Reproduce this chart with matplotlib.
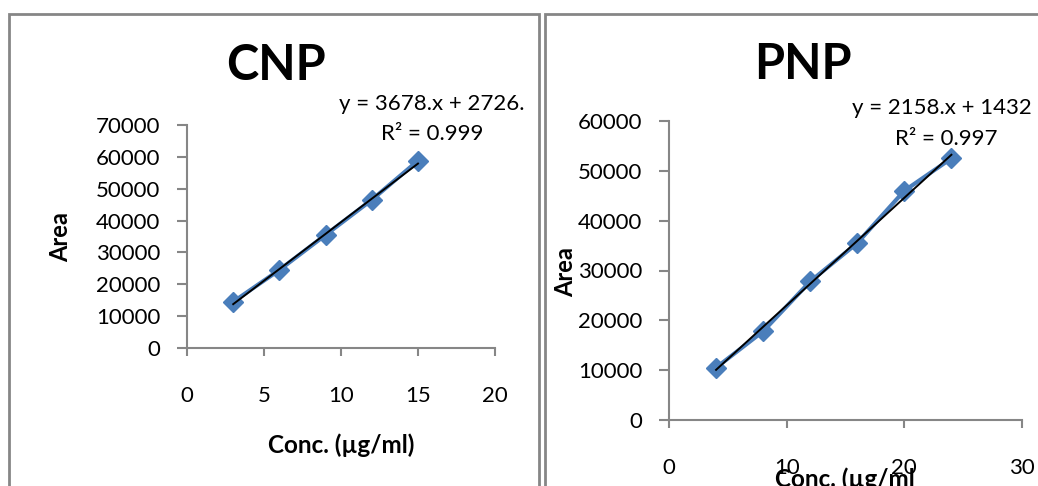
import numpy as np
import matplotlib
matplotlib.use('Agg')
import matplotlib.pyplot as plt
from matplotlib.patches import Rectangle

plt.rcParams['font.family'] = ['Lato', 'DejaVu Sans']

# CNP calibration
cnp_conc = [3, 6, 9, 12, 15]
cnp_area = [14500, 24500, 35500, 46500, 58800]
cnp_slope, cnp_icpt = 3678.0, 2726.0
cnp_eq = ['y = 3678.x + 2726.', 'R² = 0.999']

# PNP calibration
pnp_conc = [4, 8, 12, 16, 20, 24]
pnp_area = [10500, 17800, 27800, 35500, 46000, 52500]
pnp_slope, pnp_icpt = 2158.0, 1432.0
pnp_eq = ['y = 2158.x + 1432', 'R² = 0.997']

cnp_xticks = [0, 5, 10, 15, 20]
cnp_yticks = [0, 10000, 20000, 30000, 40000, 50000, 60000, 70000]
pnp_xticks = [0, 10, 20, 30]
pnp_yticks = [0, 10000, 20000, 30000, 40000, 50000, 60000]

W, H = 1038, 486
BLUE = '#4a7ebb'
GRAY = '#868686'

fig = plt.figure(figsize=(W/100., H/100.), dpi=100)


def px(x, y):
    # pixel coords (from top-left) to figure fraction
    return x/float(W), 1 - y/float(H)


def box(x0, y0, x1, y1):
    l, b = px(x0, y1)
    return [l, b, (x1 - x0)/float(W), (y1 - y0)/float(H)]


# panel borders
for x0, x1 in [(9, 539), (545, 1060)]:
    fig.patches.append(Rectangle(px(x0, 520), (x1 - x0)/float(W), (520 - 14)/float(H),
                                 transform=fig.transFigure, fill=False,
                                 edgecolor=GRAY, lw=2))


def panel(ax, conc, area, slope, icpt, xticks, yticks):
    ax.plot(conc, area, '-', color=BLUE, lw=3, marker='D', ms=10.5,
            mfc=BLUE, mec=BLUE, zorder=2)
    xf = np.array([conc[0], conc[-1]], dtype=float)
    ax.plot(xf, slope*xf + icpt, color='black', lw=1.4, zorder=3)
    ax.set_xlim(xticks[0], xticks[-1])
    ax.set_ylim(yticks[0], yticks[-1])
    ax.set_xticks(xticks)
    ax.set_yticks(yticks)
    for s in ['top', 'right']:
        ax.spines[s].set_visible(False)
    for s in ['left', 'bottom']:
        ax.spines[s].set_color(GRAY)
        ax.spines[s].set_linewidth(1.5)
    ax.tick_params(axis='x', direction='out', length=6, width=1.5, color=GRAY,
                   labelsize=16, pad=21)
    ax.tick_params(axis='y', direction='out', length=7, width=1.5, color=GRAY,
                   labelsize=16, pad=12)
    ax.set_facecolor('none')


ax1 = fig.add_axes(box(187, 125, 495, 348))
panel(ax1, cnp_conc, cnp_area, cnp_slope, cnp_icpt, cnp_xticks, cnp_yticks)

ax2 = fig.add_axes(box(669, 121, 1022, 420))
panel(ax2, pnp_conc, pnp_area, pnp_slope, pnp_icpt, pnp_xticks, pnp_yticks)

# titles
fig.text(*px(276, 66), 'CNP', fontsize=35, fontweight='bold', ha='center', va='center')
fig.text(*px(803, 64), 'PNP', fontsize=35, fontweight='bold', ha='center', va='center')

# trendline equations
fig.text(*px(432, 104), cnp_eq[0], fontsize=16, ha='center', va='center')
fig.text(*px(432, 134), cnp_eq[1], fontsize=16, ha='center', va='center')
fig.text(*px(942, 108), pnp_eq[0], fontsize=16, ha='center', va='center')
fig.text(*px(946, 139), pnp_eq[1], fontsize=16, ha='center', va='center')

# axis labels
fig.text(*px(61, 237), 'Area', fontsize=17, fontweight='bold', rotation=90,
         ha='center', va='center')
fig.text(*px(566, 272), 'Area', fontsize=17, fontweight='bold', rotation=90,
         ha='center', va='center')
fig.text(*px(341, 445), 'Conc. (µg/ml)', fontsize=17.5, fontweight='bold',
         ha='center', va='center')
fig.text(*px(845, 479), 'Conc. (µg/ml', fontsize=17.5, fontweight='bold',
         ha='center', va='center')

fig.savefig('out.png', dpi=100)
